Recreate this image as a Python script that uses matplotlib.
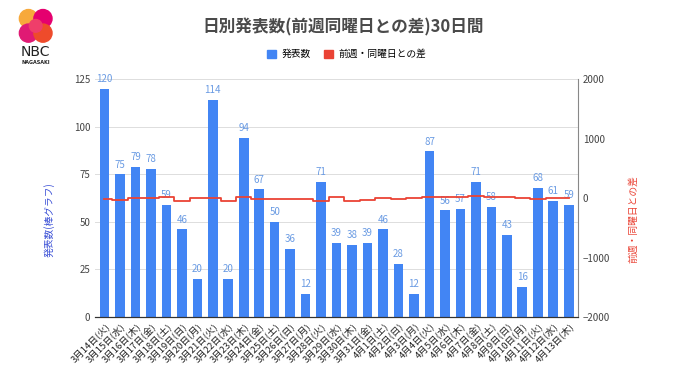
import matplotlib.pyplot as plt
from matplotlib.patches import Patch, Circle
import numpy as np

plt.rcParams['font.family'] = ['Noto Sans CJK JP', 'DejaVu Sans']

# data
dates = ['3月14日', '3月15日', '3月16日', '3月17日', '3月18日', '3月19日', '3月20日',
         '3月21日', '3月22日', '3月23日', '3月24日', '3月25日', '3月26日', '3月27日',
         '3月28日', '3月29日', '3月30日', '3月31日', '4月1日', '4月2日', '4月3日',
         '4月4日', '4月5日', '4月6日', '4月7日', '4月8日', '4月9日', '4月10日',
         '4月11日', '4月12日', '4月13日']
weekdays = ['火', '水', '木', '金', '土', '日', '月'] * 4 + ['火', '水', '木']
counts = [120, 75, 79, 78, 59, 46, 20, 114, 20, 94, 67, 50, 36, 12, 71, 39, 38,
          39, 46, 28, 12, 87, 56, 57, 71, 58, 43, 16, 68, 61, 59]
diff = [-10, -40, -5, -5, 15, -45, -5, -6, -55, 15, -11, -9, -10, -8, -43, 19,
        -56, -28, -4, -8, 0, 16, 17, 19, 32, 12, 15, 4, -19, 5, 2]

BLUE = '#4285F4'
RED = '#EA4335'

labels = [f'{d}({w})' for d, w in zip(dates, weekdays)]
x = np.arange(len(counts))

fig = plt.figure(figsize=(6.8, 3.82), dpi=100)
ax = fig.add_axes([0.140, 0.170, 0.710, 0.623])
ax2 = ax.twinx()

ax.bar(x, counts, width=0.62, color=BLUE, zorder=2)
for xi, v in zip(x, counts):
    ax.text(xi, v + 2.5, str(v), ha='center', va='bottom', fontsize=7, color='#6A9BE3')

ax2.plot(x, diff, color=RED, lw=1.3, drawstyle='steps-mid', zorder=3)

ax.set_xlim(-0.6, len(counts) - 0.4)
ax.set_ylim(0, 125)
ax.set_yticks([0, 25, 50, 75, 100, 125])
ax2.set_ylim(-2000, 2000)
ax2.set_yticks([-2000, -1000, 0, 1000, 2000])

ax.grid(axis='y', color='#dddddd', lw=0.7, zorder=0)
ax.set_axisbelow(True)
ax.set_zorder(ax2.get_zorder() - 1)
ax.patch.set_visible(True)
ax2.patch.set_visible(False)

for a in (ax, ax2):
    for s in ['top', 'left', 'right']:
        a.spines[s].set_visible(False)
    a.spines['bottom'].set_color('#333333')
    a.tick_params(length=0, labelsize=7, colors='#444444')
ax2.spines['right'].set_visible(True)
ax2.spines['right'].set_color('#888888')
ax2.spines['right'].set_linewidth(0.8)

ax.set_xticks(x)
ax.set_xticklabels(labels, rotation=45, ha='right', rotation_mode='anchor',
                   fontsize=6.8, color='#222222')
ax.tick_params(axis='x', pad=3)

ax.set_ylabel('発表数(棒グラフ)', color='#3a4fd6', fontsize=7)
ax2.set_ylabel('前週・同曜日との差', color=RED, fontsize=7, rotation=90)
ax.yaxis.set_label_coords(-0.083, 0.41)
ax2.yaxis.set_label_coords(1.104, 0.41)

fig.text(0.505, 1 - 27 / 382, '日別発表数(前週同曜日との差)30日間', ha='center', va='center',
         fontsize=12, color='#4a4a4a', fontweight='bold')

handles = [Patch(color=BLUE), Patch(color=RED)]
fig.legend(handles, ['発表数', '前週・同曜日との差'], loc='center', ncol=2,
           bbox_to_anchor=(0.51, 1 - 54 / 382), frameon=False, fontsize=7,
           handlelength=0.9, handleheight=0.9, columnspacing=1.4, handletextpad=0.6)

# logo
lg = fig.add_axes([0.020, 1 - 44 / 382, 0.065, 0.095])
lg.set_xlim(0, 2)
lg.set_ylim(0, 2)
lg.set_aspect('equal')
lg.axis('off')
lg.add_patch(Circle((0.6, 1.4), 0.5, color='#F7A93B'))
lg.add_patch(Circle((1.4, 1.4), 0.5, color='#E5006F'))
lg.add_patch(Circle((0.6, 0.6), 0.5, color='#E01A74'))
lg.add_patch(Circle((1.4, 0.6), 0.5, color='#EE4B2B'))
lg.add_patch(Circle((1.0, 1.0), 0.35, color='#EF3E6A'))
fig.text(0.052, 1 - 52 / 382, 'NBC', ha='center', va='center', fontsize=10,
         color='#222222', family='DejaVu Sans')
fig.text(0.052, 1 - 62 / 382, 'NAGASAKI', ha='center', va='center', fontsize=3.5,
         color='#222222', family='DejaVu Sans', fontweight='bold')

fig.savefig('out.png', dpi=100, facecolor='white')
